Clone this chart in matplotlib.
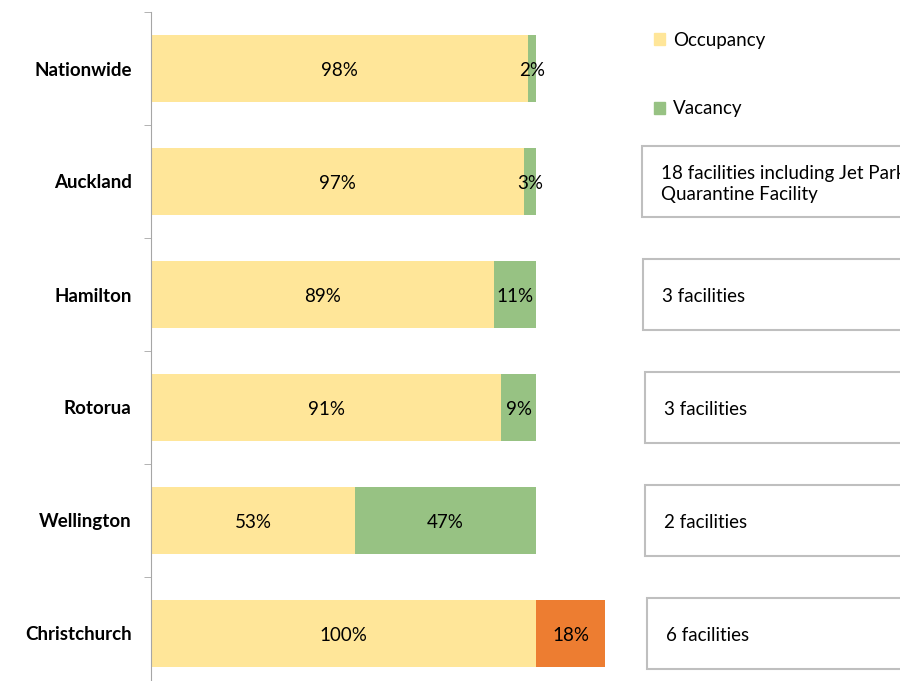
import matplotlib.pyplot as plt
from matplotlib.patches import Rectangle, Patch

plt.rcParams['font.family'] = ['Lato', 'DejaVu Sans']

cities = ['Nationwide', 'Auckland', 'Hamilton', 'Rotorua', 'Wellington', 'Christchurch']
occupancy = [98, 97, 89, 91, 53, 100]
vacancy = [2, 3, 11, 9, 47, 18]
second_colors = ['#97C283', '#97C283', '#97C283', '#97C283', '#97C283', '#ED7D31']
notes = ['', '18 facilities including Jet Park\nQuarantine Facility', '3 facilities',
         '3 facilities', '2 facilities', '6 facilities']

fig = plt.figure(figsize=(9, 6.81), dpi=100)
ax = fig.add_axes([151 / 900, -9 / 681, 749 / 900, 678 / 681])

y = list(range(len(cities)))
ax.barh(y, occupancy, height=0.6, color='#FFE699')
ax.barh(y, vacancy, left=occupancy, height=0.6, color=second_colors)

fs = 13.5
for i in y:
    ax.text(occupancy[i] / 2, i + 0.02, f'{occupancy[i]}%', ha='center', va='center', fontsize=fs)
    ax.text(occupancy[i] + vacancy[i] / 2, i + 0.02, f'{vacancy[i]}%', ha='center', va='center',
            fontsize=fs)

# note boxes on the right (the reference crops them at the figure edge)
box_x = [0, 127.5, 127.8, 128.3, 128.3, 128.8]
for i in y:
    if not notes[i]:
        continue
    ax.add_patch(Rectangle((box_x[i], i - 0.31), 80, 0.62, facecolor='white',
                           edgecolor='#BFBFBF', linewidth=1.5))
    ax.text(box_x[i] + 5, i + 0.02, notes[i], ha='left', va='center', fontsize=fs, linespacing=1.3)

ax.set_xlim(0, 749 / 3.85)
ax.set_ylim(5.5, -0.5)

ax.set_yticks(y)
ax.set_yticklabels(cities, fontweight='bold', fontsize=fs)
ax.tick_params(axis='y', which='major', length=0, pad=14)
ax.set_yticks([i - 0.5 for i in range(len(cities) + 1)], minor=True)
ax.tick_params(axis='y', which='minor', length=5, color='#A6A6A6')
ax.set_xticks([])
for s in ['top', 'right', 'bottom']:
    ax.spines[s].set_visible(False)
ax.spines['left'].set_color('#A6A6A6')

handles = [Patch(color='#FFE699', label='Occupancy'), Patch(color='#97C283', label='Vacancy')]
fig.legend(handles=handles, loc='upper left', bbox_to_anchor=(637 / 900, 1 - 15 / 681),
           frameon=False, fontsize=fs, handlelength=0.6, handleheight=0.6,
           handletextpad=0.4, labelspacing=2.75)

fig.savefig('out.png', dpi=100)
